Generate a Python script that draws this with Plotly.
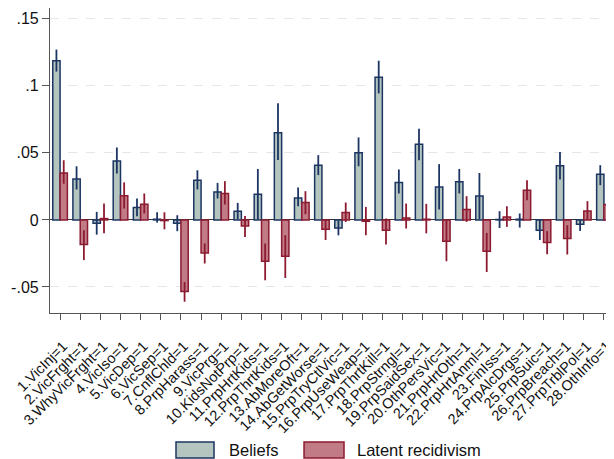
import plotly.graph_objects as go

categories = ["1.VicInj=1", "2.VicFrght=1", "3.WhyVicFrght=1", "4.VicIso=1", "5.VicDep=1",
              "6.VicSep=1", "7.CnflChld=1", "8.PrpHarass=1", "9.VicPrg=1", "10.KidsNotPrp=1",
              "11.PrpHrtKids=1", "12.PrpThrtKids=1", "13.AbMoreOft=1", "14.AbGetWorse=1",
              "15.PrpTryCtlVic=1", "16.PrpUseWeap=1", "17.PrpThrtKill=1", "18.PrpStrngl=1",
              "19.PrpSaidSex=1", "20.OthPersVic=1", "21.PrpHrtOth=1", "22.PrpHrtAnml=1",
              "23.FinIss=1", "24.PrpAlcDrgs=1", "25.PrpSuic=1", "26.PrpBreach=1",
              "27.PrpTrblPol=1", "28.OthInfo=1"]

beliefs = [0.1187, 0.0306, -0.0025, 0.0440, 0.0093, 0.0005, -0.0025, 0.0296, 0.0209, 0.0065,
           0.0192, 0.0649, 0.0164, 0.0408, -0.0060, 0.0500, 0.1063, 0.0279, 0.0564, 0.0246,
           0.0284, 0.0179, 0.0003, 0.0005, -0.0077, 0.0403, -0.0032, 0.0341]
beliefs_lo = [0.1106, 0.0227, -0.0110, 0.0346, 0.0028, -0.0020, -0.0084, 0.0227, 0.0160, 0.0003,
              0.0003, 0.0446, 0.0102, 0.0334, -0.0115, 0.0400, 0.0943, 0.0197, 0.0445, 0.0078,
              0.0197, 0.0003, -0.0060, -0.0057, -0.0150, 0.0301, -0.0082, 0.0259]
beliefs_hi = [0.1270, 0.0400, 0.0060, 0.0540, 0.0160, 0.0057, 0.0035, 0.0370, 0.0276, 0.0127,
              0.0380, 0.0869, 0.0242, 0.0483, -0.0005, 0.0615, 0.1187, 0.0376, 0.0680, 0.0416,
              0.0380, 0.0350, 0.0065, 0.0048, -0.0002, 0.0507, -0.0002, 0.0408]

latent = [0.0350, -0.0184, 0.0010, 0.0180, 0.0117, -0.0005, -0.0534, -0.0246, 0.0197, -0.0045,
          -0.0308, -0.0271, 0.0130, -0.0070, 0.0055, -0.0010, -0.0077, 0.0015, 0.0005, -0.0159,
          0.0078, -0.0234, 0.0022, 0.0222, -0.0169, -0.0139, 0.0067, 0.0115]
latent_lo = [0.0270, -0.0300, -0.0100, 0.0085, 0.0048, -0.0070, -0.0610, -0.0325, 0.0115, -0.0127,
             -0.0450, -0.0433, 0.0043, -0.0150, -0.0015, -0.0114, -0.0184, -0.0064, -0.0100, -0.0308,
             -0.0015, -0.0388, -0.0052, 0.0147, -0.0256, -0.0258, 0.0003, 0.0035]
latent_hi = [0.0445, -0.0077, 0.0122, 0.0280, 0.0197, 0.0057, -0.0463, -0.0176, 0.0289, 0.0030,
             -0.0176, -0.0114, 0.0214, 0.0005, 0.0130, 0.0097, 0.0010, 0.0122, 0.0120, -0.0002,
             0.0177, -0.0097, 0.0102, 0.0296, -0.0084, -0.0040, 0.0140, 0.0197]

ytick_vals = [-0.05, 0, 0.05, 0.1, 0.15]
ytick_text = ["-.05", "0", ".05", ".1", ".15"]

series_names = ["Beliefs", "Latent recidivism"]
fills = ["#b4c5bf", "#c17b86"]
edges = ["#1c3563", "#8c1a30"]

FONT = "Liberation Sans, Arial, sans-serif"

fig = go.Figure()
for name, vals, lo, hi, fc, ec in [
    (series_names[0], beliefs, beliefs_lo, beliefs_hi, fills[0], edges[0]),
    (series_names[1], latent, latent_lo, latent_hi, fills[1], edges[1]),
]:
    fig.add_trace(go.Bar(
        x=categories, y=vals, name=name, showlegend=False,
        marker=dict(color=fc, line=dict(color=ec, width=1.5)),
        error_y=dict(type="data", symmetric=False,
                     array=[h - v for h, v in zip(hi, vals)],
                     arrayminus=[v - l for v, l in zip(vals, lo)],
                     color=ec, thickness=1.8, width=0),
    ))

# custom legend (wide boxes like the original)
legend_items = [
    (0.2234, 0.2908, 0.3138, series_names[0], fills[0], edges[0]),
    (0.4504, 0.5213, 0.5408, series_names[1], fills[1], edges[1]),
]
for x0, x1, xt, txt, fc, ec in legend_items:
    fig.add_shape(type="rect", xref="paper", yref="paper", x0=x0, x1=x1, y0=-0.475, y1=-0.423,
                  fillcolor=fc, line=dict(color=ec, width=1.5))
    fig.add_annotation(xref="paper", yref="paper", x=xt, y=-0.449, text=txt, showarrow=False,
                       xanchor="left", yanchor="middle", font=dict(size=16.5, color="#111", family=FONT))

# page body has an 8px default margin, so the figure is offset by (8, 8)
fig.update_layout(
    width=606, height=451,
    margin=dict(l=42, r=0, t=0, b=146, autoexpand=False),
    paper_bgcolor="white", plot_bgcolor="white",
    barmode="group", bargap=0.275, bargroupgap=0,
    font=dict(family=FONT, color="#111"),
)
fig.update_xaxes(
    automargin=False,
    range=[-0.5, 27.5], showline=True, linecolor="#555", linewidth=1.2,
    ticks="outside", ticklen=6, tickcolor="#555", tickwidth=1.2,
    tickangle=-45, tickfont=dict(size=14.5, family=FONT, color="#111"),
    ticklabelstandoff=12, ticklabelshift=3,
    showgrid=False,
)
fig.update_yaxes(
    automargin=False,
    range=[-0.0694, 0.158], showline=True, linecolor="#555", linewidth=1.2,
    ticks="outside", ticklen=7, tickcolor="#555", tickwidth=1.2,
    tickvals=ytick_vals, ticktext=ytick_text, tickfont=dict(size=16, family=FONT, color="#111"),
    showgrid=True, gridcolor="#e6e6e6", griddash="dash", gridwidth=1,
    zeroline=True, zerolinecolor="#333", zerolinewidth=1.3,
)

fig.write_html("out.html")
